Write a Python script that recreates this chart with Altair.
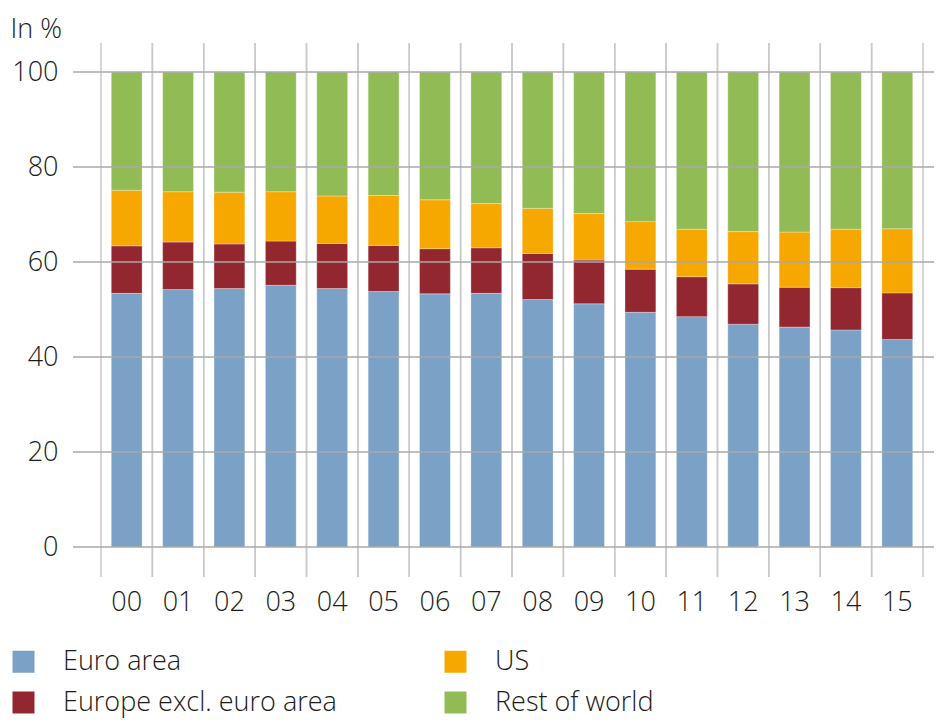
import altair as alt
import pandas as pd

years = ["00", "01", "02", "03", "04", "05", "06", "07",
         "08", "09", "10", "11", "12", "13", "14", "15"]
euro_area = [53.4, 54.2, 54.4, 55.1, 54.4, 53.8, 53.3, 53.4,
             52.1, 51.2, 49.4, 48.5, 46.9, 46.3, 45.7, 43.7]
europe_excl = [10.0, 10.0, 9.4, 9.3, 9.5, 9.7, 9.5, 9.6,
               9.7, 9.2, 9.1, 8.4, 8.5, 8.4, 8.9, 9.8]
us = [11.7, 10.6, 10.9, 10.4, 10.0, 10.5, 10.3, 9.3,
      9.5, 9.8, 10.0, 10.0, 11.0, 11.6, 12.3, 13.5]
rest_of_world = [24.9, 25.2, 25.3, 25.2, 26.1, 26.0, 26.9, 27.7,
                 28.7, 29.8, 31.5, 33.1, 33.6, 33.7, 33.1, 33.0]

series_names = ["Euro area", "Europe excl. euro area", "US", "Rest of world"]
series_values = [euro_area, europe_excl, us, rest_of_world]
series_colors = ["#7ba2c6", "#93272f", "#f6a800", "#91bb55"]
y_ticks = [0, 20, 40, 60, 80, 100]

rows = []
for i, (name, vals) in enumerate(zip(series_names, series_values)):
    for yr, v in zip(years, vals):
        rows.append({"year": yr, "series": name, "value": v, "ord": i})
df = pd.DataFrame(rows)

W, H = 822, 475
FONT = "Open Sans"
TXT = "#1a1a1a"
FS = 27

y_axis = alt.Axis(values=y_ticks, grid=False, domain=False, ticks=False,
                  labelPadding=43, title="In %", titleAngle=0, titleAlign="left",
                  titleBaseline="alphabetic", titleX=-91, titleY=-35,
                  titleFontSize=27)
y_scale = alt.Scale(domain=[0, 100], nice=False)

bars = alt.Chart(df).mark_bar(stroke="#ffffff", strokeWidth=0.6, strokeOpacity=0.5).encode(
    x=alt.X("year:N", sort=years,
            scale=alt.Scale(paddingInner=0.4, paddingOuter=0.2),
            axis=alt.Axis(title=None, labelAngle=0, domain=False, ticks=False, grid=False,
                          labelPadding=42)),
    y=alt.Y("value:Q", stack="zero", scale=y_scale, axis=y_axis),
    color=alt.Color("series:N",
                    scale=alt.Scale(domain=series_names, range=series_colors),
                    legend=alt.Legend(title=None, orient="none", legendX=-91, legendY=576,
                                      columns=2, columnPadding=105, rowPadding=13,
                                      symbolType="square", symbolSize=484,
                                      symbolStrokeWidth=0, symbolOpacity=1,
                                      labelFont=FONT, labelFontSize=FS, labelFontWeight=300,
                                      labelColor=TXT, labelOffset=26, labelLimit=0)),
    order=alt.Order("ord:Q", sort="ascending"),
)

year_df = pd.DataFrame({"year": years})
vlines_left = alt.Chart(year_df).mark_rule(color="#c9c9c9", strokeWidth=1.5).encode(
    x=alt.X("year:N", sort=years, bandPosition=0,
            scale=alt.Scale(paddingInner=0, paddingOuter=0), axis=None),
    y=alt.value(-29), y2=alt.value(H + 30),
)
vlines_right = alt.Chart(year_df).mark_rule(color="#c9c9c9", strokeWidth=1.5).encode(
    x=alt.X("year:N", sort=years, bandPosition=1,
            scale=alt.Scale(paddingInner=0, paddingOuter=0), axis=None),
    y=alt.value(-29), y2=alt.value(H + 30),
)

hgrid = alt.Chart(pd.DataFrame({"value": y_ticks})).mark_rule(color="#a8a8a8", strokeWidth=1.5).encode(
    y=alt.Y("value:Q", scale=y_scale, axis=y_axis),
    x=alt.value(-28), x2=alt.value(W + 11),
)

chart = alt.layer(vlines_left, vlines_right, bars, hgrid).resolve_scale(
    x="independent"
).properties(
    width=W, height=H,
    autosize=alt.AutoSizeParams(type="none"),
    padding={"left": 93, "top": 64, "right": 11, "bottom": 171},
    background="#ffffff",
).configure_axis(
    labelFont=FONT, labelFontSize=FS, labelFontWeight=300, labelColor=TXT,
    titleFont=FONT, titleFontWeight=300, titleColor=TXT,
).configure_view(stroke=None)

chart.save("out.html", embed_options={"renderer": "svg", "actions": False})
